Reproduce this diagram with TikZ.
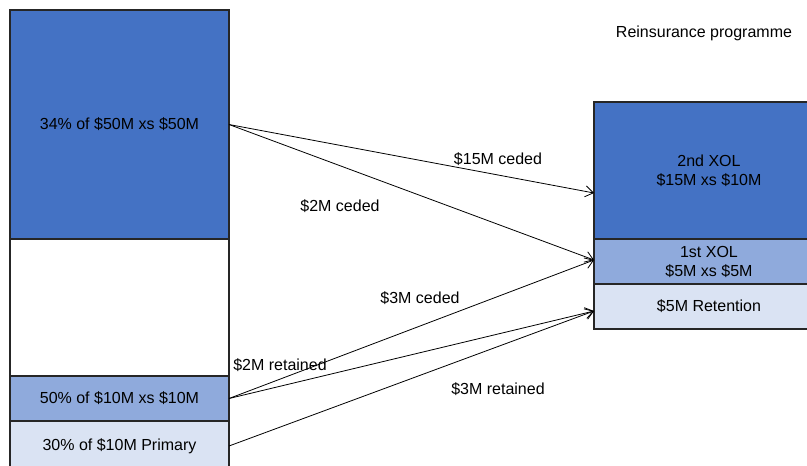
\documentclass[tikz,border=0pt]{standalone}
\usepackage{fontspec}
\setmainfont{Liberation Sans}
\usetikzlibrary{arrows.meta}
\definecolor{dkblue}{HTML}{4472C4}
\definecolor{mdblue}{HTML}{8FAADC}
\definecolor{ltblue}{HTML}{DAE3F3}
\begin{document}
\begin{tikzpicture}[x=1pt,y=-1pt,
  layer/.style={draw=black!85,line width=1.8pt,inner sep=0pt,outer sep=0pt,align=center,
    font=\fontsize{16}{19}\selectfont},
  flow/.style={line width=0.8pt,-{Straight Barb[length=8pt,width=11pt]}},
  lbl/.style={font=\fontsize{16}{19}\selectfont,inner sep=0pt}]
\useasboundingbox (0,0) rectangle (807,466);
\fill[white] (0,0) rectangle (807,466);
% left column
\node[layer,fill=dkblue,minimum width=219pt,minimum height=229pt] (l1) at (119.5,124.5) {34\% of \$50M xs \$50M};
\node[layer,fill=white,minimum width=219pt,minimum height=137pt] (l0) at (119.5,307.5) {};
\node[layer,fill=mdblue,minimum width=219pt,minimum height=45pt] (l2) at (119.5,398.5) {50\% of \$10M xs \$10M};
\node[layer,fill=ltblue,minimum width=219pt,minimum height=50pt] (l3) at (119.5,446) {30\% of \$10M Primary};
% right column
\node[layer,fill=dkblue,minimum width=230pt,minimum height=137pt] (r1) at (709,170.5) {2nd XOL\\\$15M xs \$10M};
\node[layer,fill=mdblue,minimum width=230pt,minimum height=45pt] (r2) at (709,261.5) {1st XOL\\\$5M xs \$5M};
\node[layer,fill=ltblue,minimum width=230pt,minimum height=45pt] (r3) at (709,306.5) {\$5M Retention};
\node[lbl] (title) at (704,33) {Reinsurance programme};
% connection points
\coordinate (a1) at (l1.east);
\coordinate (a2) at (l2.east);
\coordinate (a3) at (l3.east);
\coordinate (b1) at ([yshift=-22.5pt]r1.west);
\coordinate (b2) at ([yshift=1.5pt]r2.west);
\coordinate (b3) at ([yshift=-4.5pt]r3.west);
\draw[flow] (a1) -- (b1);
\draw[flow] (a1) -- (b2);
\draw[flow] (a2) -- (b2);
\draw[flow] (a2) -- (b3);
\draw[flow] (a3) -- (b3);
% labels
\node[lbl] (t1) at (498,159) {\$15M ceded};
\node[lbl] (t2) at (340,206) {\$2M ceded};
\node[lbl] (t3) at (420,298) {\$3M ceded};
\node[lbl] (t4) at (280,365) {\$2M retained};
\node[lbl] (t5) at (498,389) {\$3M retained};
\end{tikzpicture}
\end{document}
